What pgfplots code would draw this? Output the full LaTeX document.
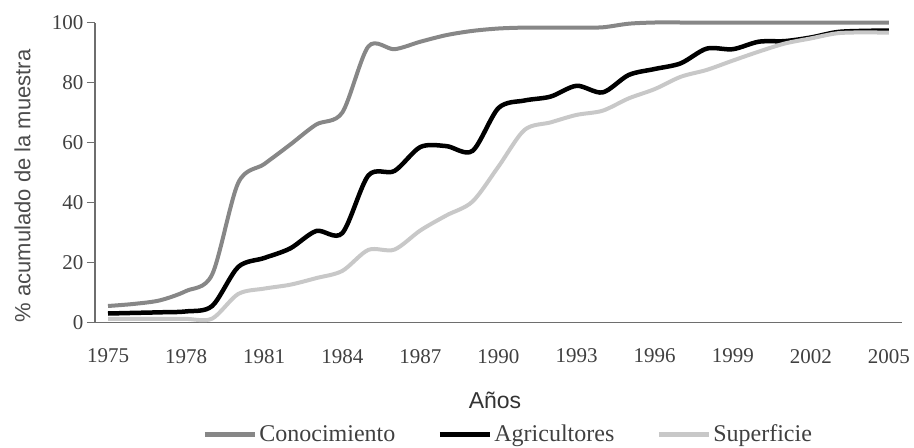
\documentclass[border=0pt]{standalone}
\usepackage{fontspec}
\setmainfont{Liberation Serif}
\newfontfamily\labelfont{Liberation Sans}
\usepackage{pgfplots}
\pgfplotsset{compat=1.18}
\definecolor{cono}{RGB}{135,135,135}
\definecolor{supe}{RGB}{200,200,200}
\definecolor{axisc}{RGB}{110,110,110}
\begin{document}
\begin{tikzpicture}
\begin{axis}[
  scale only axis,
  width=807pt, height=300pt,
  xmin=1974.5, xmax=2005.5,
  ymin=0, ymax=100,
  clip=false,
  axis x line=bottom, axis y line=left,
  axis line style={-, draw=axisc, line width=1.6pt},
  tick align=outside,
  xtick={1975,1978,...,2005},
  minor xtick={1974.5,1975.5,...,2005.5},
  xtick style={draw=none},
  minor tick style={draw=axisc, line width=1.2pt},
  minor tick length=7pt,
  ytick={0,20,...,100},
  ytick style={draw=axisc, line width=1.2pt},
  major tick length=8pt,
  xticklabel style={yshift=-15pt},
  ticklabel style={font=\fontsize{21}{25}\selectfont, text=black!75},
  /pgf/number format/assume math mode=true,
  xticklabel={\pgfmathprintnumber[1000 sep={},fixed]{\tick}},
  xlabel={Años},
  xlabel style={at={(axis description cs:0.4957,-0.258)}, anchor=center, font=\labelfont\fontsize{23}{27}\selectfont, text=black!80},
  ylabel={\% acumulado de la muestra},
  ylabel style={at={(axis description cs:-0.0898,0.455)}, anchor=center, font=\labelfont\fontsize{22}{26}\selectfont, text=black!70},
  legend columns=-1,
  legend style={at={(axis description cs:0.512,-0.372)}, anchor=center, draw=none, fill=none,
    font=\fontsize{24}{28}\selectfont, text=black!75,
    /tikz/every even column/.append style={column sep=40pt},
    nodes={inner sep=2pt}},
  legend image code/.code={\draw[#1, line width=5pt] (0pt,0pt) -- (50pt,0pt);},
]
\addplot[cono, line width=4pt, smooth] coordinates {
(1975,5.5) (1976,6.2) (1977,7.4) (1978,10.5) (1979,16) (1980,46.5) (1981,52.8)
(1982,59.3) (1983,66) (1984,70) (1985,92) (1986,91.1) (1987,93.6) (1988,95.8)
(1989,97.2) (1990,98) (1991,98.3) (1992,98.3) (1993,98.3) (1994,98.4) (1995,99.6)
(1996,100) (1997,100) (1998,100) (1999,100) (2000,100) (2001,100) (2002,100)
(2003,100) (2004,100) (2005,100)};
\addlegendentry{Conocimiento}
\addplot[black, line width=4.5pt, smooth] coordinates {
(1975,3.0) (1976,3.2) (1977,3.4) (1978,3.7) (1979,5.5) (1980,18.5) (1981,21.5)
(1982,24.7) (1983,30.5) (1984,29.8) (1985,49) (1986,50.5) (1987,58.5) (1988,58.8)
(1989,57.2) (1990,71.5) (1991,74) (1992,75.3) (1993,78.9) (1994,76.7) (1995,82.5)
(1996,84.5) (1997,86.4) (1998,91.3) (1999,91.1) (2000,93.6) (2001,93.8) (2002,95.0)
(2003,96.8) (2004,97.2) (2005,97.3)};
\addlegendentry{Agricultores}
\addplot[supe, line width=4pt, smooth] coordinates {
(1975,1.2) (1976,1.2) (1977,1.2) (1978,1.2) (1979,1.3) (1980,9.5) (1981,11.3)
(1982,12.6) (1983,14.8) (1984,17.2) (1985,24.2) (1986,24.3) (1987,30.7) (1988,35.7)
(1989,40.3) (1990,52) (1991,64.2) (1992,66.7) (1993,69.2) (1994,70.6) (1995,74.7)
(1996,77.8) (1997,81.9) (1998,84.2) (1999,87.3) (2000,90.3) (2001,93.0) (2002,94.7)
(2003,96.4) (2004,96.7) (2005,96.6)};
\addlegendentry{Superficie}
\path (axis description cs:-0.1177,1.075) rectangle (axis description cs:1.0149,-0.415);
\end{axis}
\end{tikzpicture}
\end{document}
